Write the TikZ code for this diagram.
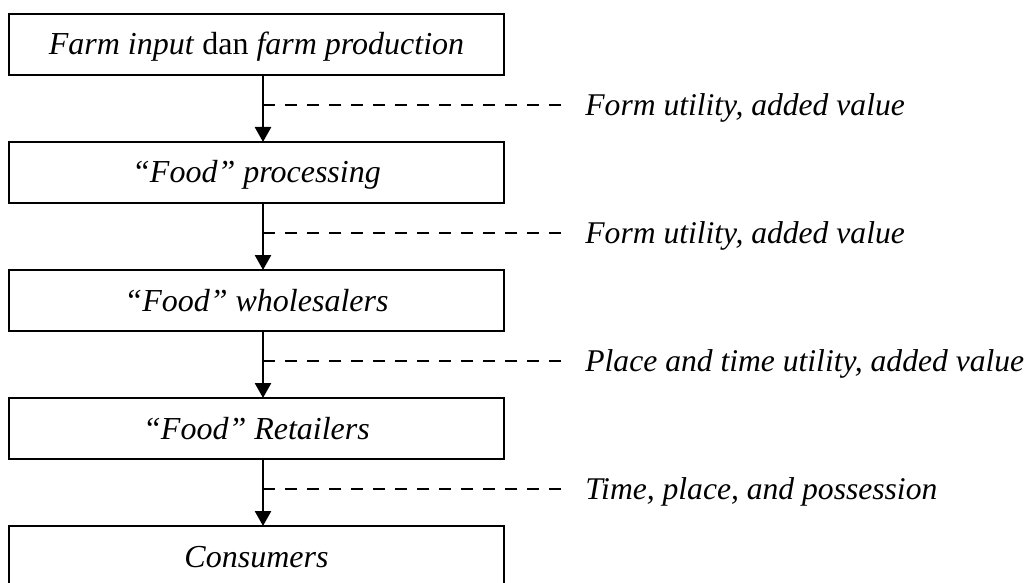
\documentclass[tikz,border=0pt]{standalone}
\usepackage{fontspec}
\setmainfont{Liberation Serif}
\usetikzlibrary{arrows.meta,positioning,calc}

\begin{document}
\begin{tikzpicture}[
  node distance=33.5pt,
  tahap/.style={rectangle, draw, line width=1.1pt, outer sep=0pt, minimum width=247.5pt, minimum height=30.5pt, inner sep=0pt, text height=10.5pt, text depth=0pt, font=\fontsize{16}{19}\selectfont\itshape},
  ket/.style={inner xsep=11.5pt, inner ysep=0pt, text height=10.5pt, text depth=0pt, font=\fontsize{15.8}{19}\selectfont\itshape},
  panah/.style={-{Triangle[length=7.5pt, width=8pt]}, line width=1.3pt},
  putus/.style={dash pattern=on 6pt off 5pt, line width=0.9pt}
]
\useasboundingbox (0,0) rectangle (514.5pt,-291.5pt);
\node[tahap] (b1) at (128.25pt,-22.25pt) {Farm input \textup{dan} farm production};
\node[tahap, below=of b1] (b2) {“Food” processing};
\node[tahap, below=of b2] (b3) {“Food” wholesalers};
\node[tahap, below=of b3] (b4) {“Food” Retailers};
\node[tahap, below=of b4] (b5) {Consumers};
\foreach \i/\j/\teks in {1/2/{Form utility, added value}, 2/3/{Form utility, added value}, 3/4/{Place and time utility, added value}, 4/5/{Time, place, and possession}} {
  \draw[panah] ([xshift=3.25pt]b\i.south) -- ([xshift=3.25pt]b\j.north);
  \coordinate (c\i) at ($(b\i.south)+(3.25pt,-15pt)$);
  \node[ket, right=149.5pt of c\i] (k\i) {\teks};
  \draw[putus] (c\i) -- (k\i.west);
}
\end{tikzpicture}
\end{document}
